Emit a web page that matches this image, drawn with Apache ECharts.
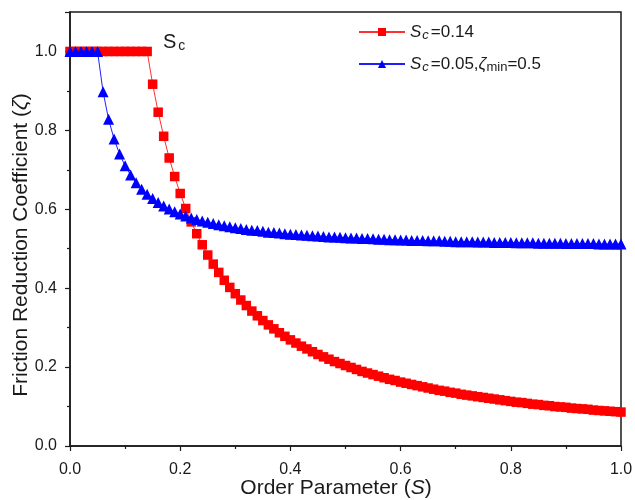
<!DOCTYPE html>
<html><head><meta charset="utf-8">
<script src="https://cdn.jsdelivr.net/npm/echarts@6/dist/echarts.min.js"></script>
<style>html,body{margin:0;padding:0;background:#fff}#c{width:635px;height:500px}</style>
</head><body><div id="c"></div><script>
// Order parameter S
const xValues = [0.00,0.01,0.02,0.03,0.04,0.05,0.06,0.07,0.08,0.09,
0.10,0.11,0.12,0.13,0.14,0.15,0.16,0.17,0.18,0.19,
0.20,0.21,0.22,0.23,0.24,0.25,0.26,0.27,0.28,0.29,
0.30,0.31,0.32,0.33,0.34,0.35,0.36,0.37,0.38,0.39,
0.40,0.41,0.42,0.43,0.44,0.45,0.46,0.47,0.48,0.49,
0.50,0.51,0.52,0.53,0.54,0.55,0.56,0.57,0.58,0.59,
0.60,0.61,0.62,0.63,0.64,0.65,0.66,0.67,0.68,0.69,
0.70,0.71,0.72,0.73,0.74,0.75,0.76,0.77,0.78,0.79,
0.80,0.81,0.82,0.83,0.84,0.85,0.86,0.87,0.88,0.89,
0.90,0.91,0.92,0.93,0.94,0.95,0.96,0.97,0.98,0.99,1.00];
// Sc = 0.14
const redValues = [1,1,1,1,1,1,1,1,1,1,
1,1,1,1,1,0.917,0.846,0.785,0.730,0.683,
0.640,0.602,0.568,0.538,0.510,0.484,0.461,0.440,0.420,0.402,
0.386,0.370,0.356,0.342,0.330,0.318,0.307,0.297,0.287,0.278,
0.269,0.261,0.253,0.246,0.239,0.232,0.226,0.220,0.214,0.209,
0.204,0.199,0.194,0.189,0.185,0.181,0.177,0.173,0.169,0.166,
0.162,0.159,0.156,0.153,0.150,0.147,0.144,0.141,0.139,0.136,
0.134,0.131,0.129,0.127,0.125,0.123,0.121,0.119,0.117,0.115,
0.113,0.111,0.110,0.108,0.106,0.105,0.103,0.102,0.100,0.099,
0.098,0.096,0.095,0.094,0.093,0.091,0.090,0.089,0.088,0.087,0.086];
// Sc = 0.05, zeta_min = 0.5
const blueValues = [1,1,1,1,1,1,0.898,0.828,0.778,0.740,
0.710,0.687,0.667,0.651,0.638,0.627,0.617,0.608,0.601,0.594,
0.588,0.583,0.578,0.574,0.570,0.567,0.564,0.561,0.558,0.556,
0.553,0.551,0.549,0.547,0.546,0.544,0.542,0.541,0.540,0.538,
0.537,0.536,0.535,0.534,0.533,0.532,0.531,0.530,0.530,0.529,
0.528,0.527,0.527,0.526,0.526,0.525,0.524,0.524,0.523,0.523,
0.522,0.522,0.521,0.521,0.521,0.520,0.520,0.520,0.519,0.519,
0.518,0.518,0.518,0.518,0.517,0.517,0.517,0.516,0.516,0.516,
0.516,0.515,0.515,0.515,0.515,0.514,0.514,0.514,0.514,0.514,
0.513,0.513,0.513,0.513,0.513,0.513,0.512,0.512,0.512,0.512,0.512];
const seriesNames = ['Sc=0.14', 'Sc=0.05,ζmin=0.5'];
const legendLabels = ['{i|S}{sub|c}=0.14', '{i|S}{sub|c}=0.05,{z|ζ}{subn|min}=0.5'];

const FONT = "'Liberation Sans', Arial, sans-serif";
const INK = '#1a1a1a';
const chart = echarts.init(document.getElementById('c'), null, {renderer: 'canvas'});
const pair = (ys) => xValues.map((x, i) => [x, ys[i]]);
const axisCommon = {
  type: 'value',
  nameMoveOverlap: false,
  axisLine: {show: true, onZero: false, lineStyle: {color: INK, width: 1.5}},
  axisTick: {show: true, inside: false, length: 5, lineStyle: {color: INK, width: 1.2}},
  minorTick: {show: true, splitNumber: 2, length: 3, lineStyle: {color: INK, width: 1.2}},
  splitLine: {show: false},
  minorSplitLine: {show: false},
  axisLabel: {fontSize: 16, color: INK, fontFamily: FONT, formatter: v => v.toFixed(1)}
};
chart.setOption({
  animation: false,
  backgroundColor: '#fff',
  grid: {left: 70, right: 14, top: 12, bottom: 54, containLabel: false, outerBoundsMode: 'none',
    show: true, borderColor: INK, borderWidth: 1.5, backgroundColor: 'transparent'},
  xAxis: Object.assign({}, axisCommon, {
    min: 0, max: 1, interval: 0.2,
    axisLabel: Object.assign({}, axisCommon.axisLabel, {margin: 16}),
    name: 'Order Parameter ({i|S})', nameLocation: 'middle', nameGap: 32,
    nameTextStyle: {fontSize: 21, color: INK, fontFamily: FONT, padding: [0, 19, 0, 0],
      rich: {i: {fontStyle: 'italic', fontSize: 21, color: INK, fontFamily: FONT}}}
  }),
  yAxis: Object.assign({}, axisCommon, {
    min: 0, max: 1.1, interval: 0.2,
    axisLabel: Object.assign({}, axisCommon.axisLabel, {margin: 13, showMaxLabel: false}),
    name: 'Friction Reduction Coefficient ({i|ζ})', nameLocation: 'middle', nameGap: 38,
    nameTextStyle: {fontSize: 21, color: INK, fontFamily: FONT, padding: [0, 32, 0, 0],
      rich: {i: {fontStyle: 'italic', fontSize: 21, color: INK, fontFamily: FONT}}}
  }),
  legend: {
    orient: 'vertical', left: 353, top: 17, itemWidth: 46, itemHeight: 10, itemGap: 12,
    data: seriesNames,
    formatter: name => legendLabels[seriesNames.indexOf(name)],
    textStyle: {fontSize: 17, color: INK, fontFamily: FONT, lineHeight: 20,
      rich: {
        i: {fontSize: 17, fontStyle: 'italic', color: INK, fontFamily: FONT, lineHeight: 20},
        sub: {fontSize: 13, fontStyle: 'italic', color: INK, fontFamily: FONT, verticalAlign: 'bottom', lineHeight: 6, padding: [0, 2, 0, 1]},
        z: {fontSize: 17, fontStyle: 'italic', color: INK, fontFamily: FONT, lineHeight: 20},
        subn: {fontSize: 13, color: INK, fontFamily: FONT, verticalAlign: 'bottom', lineHeight: 6}
      }}
  },
  graphic: [{
    type: 'text', left: 163, top: 32,
    style: {text: '{s|S}{c|c}', fill: INK, font: '20px ' + FONT,
      rich: {s: {fontSize: 20, fontFamily: FONT, fill: INK, lineHeight: 22},
             c: {fontSize: 14, fontFamily: FONT, fill: INK, verticalAlign: 'bottom', lineHeight: 8, padding: [0, 0, 0, 2]}}}
  }],
  series: [{
    name: seriesNames[0], type: 'line', data: pair(redValues),
    symbol: 'rect', symbolSize: 9.5, showSymbol: true,
    itemStyle: {color: '#ff0000'},
    lineStyle: {color: '#ff3030', width: 1},
    emphasis: {disabled: true}, z: 2
  }, {
    name: seriesNames[1], type: 'line', data: pair(blueValues),
    symbol: 'triangle', symbolSize: 11, showSymbol: true,
    itemStyle: {color: '#0000ff'},
    lineStyle: {color: '#2020ff', width: 1},
    emphasis: {disabled: true}, z: 3
  }]
});
</script></body></html>
